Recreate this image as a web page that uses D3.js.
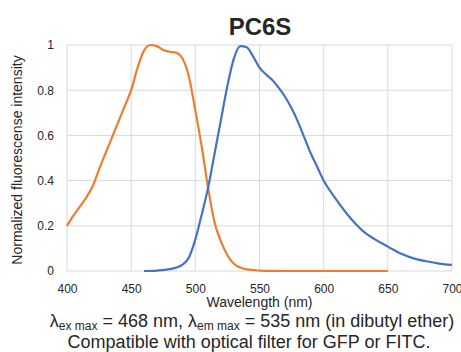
<!DOCTYPE html>
<html lang="en">
<head>
<meta charset="UTF-8">
<title>PC6S spectra</title>
<script src="https://d3js.org/d3.v7.min.js"></script>
<style>
  body { margin: 0; background: #fff; }
  svg text { font-family: Arial, "Liberation Sans", sans-serif; fill: #262626; }
</style>
</head>
<body>
<div id="chart"></div>
<script>
// excitation (orange), wavelength nm
const exWl  = [400, 405, 410, 415, 420, 425, 430, 435, 440, 445, 450, 455, 460, 465, 470, 475, 480, 485, 490, 495, 500, 505, 510, 515, 520, 525, 530, 535, 540, 550, 560, 570, 600, 650];
const exVal = [0.20, 0.245, 0.285, 0.325, 0.375, 0.45, 0.52, 0.59, 0.66, 0.73, 0.80, 0.90, 0.975, 1.0, 0.995, 0.978, 0.97, 0.966, 0.94, 0.86, 0.71, 0.55, 0.366, 0.215, 0.13, 0.07, 0.032, 0.015, 0.007, 0.002, 0.0005, 0, 0, 0];
// emission (blue)
const emWl  = [460, 470, 480, 485, 490, 495, 500, 505, 510, 515, 520, 525, 530, 535, 540, 545, 550, 555, 560, 565, 570, 575, 580, 585, 590, 595, 600, 610, 620, 630, 640, 650, 660, 670, 680, 690, 700];
const emVal = [0, 0.002, 0.008, 0.015, 0.028, 0.06, 0.14, 0.25, 0.37, 0.52, 0.67, 0.82, 0.94, 0.995, 0.99, 0.95, 0.90, 0.87, 0.845, 0.81, 0.77, 0.72, 0.66, 0.59, 0.52, 0.46, 0.40, 0.315, 0.24, 0.18, 0.14, 0.108, 0.077, 0.056, 0.043, 0.033, 0.027];
const xTicks = [400, 450, 500, 550, 600, 650, 700];
const yTicks = [0, 0.2, 0.4, 0.6, 0.8, 1];

const W = 461, H = 352;
const margin = {top: 45, right: 9, bottom: 81, left: 67};
const width = W - margin.left - margin.right;
const height = H - margin.top - margin.bottom;

const svg = d3.select("#chart").append("svg")
    .attr("width", W)
    .attr("height", H);

const x = d3.scaleLinear().domain([400, 700]).range([margin.left, margin.left + width]);
const y = d3.scaleLinear().domain([0, 1]).range([margin.top + height, margin.top]);

// gridlines
svg.append("g").selectAll("line").data(xTicks).join("line")
    .attr("x1", d => x(d)).attr("x2", d => x(d))
    .attr("y1", y(0)).attr("y2", y(1))
    .attr("stroke", "#d9d9d9").attr("stroke-width", 1);
svg.append("g").selectAll("line").data(yTicks).join("line")
    .attr("x1", x(400)).attr("x2", x(700))
    .attr("y1", d => y(d)).attr("y2", d => y(d))
    .attr("stroke", "#d9d9d9").attr("stroke-width", 1);

// axes (labels only)
const xAxis = svg.append("g")
    .attr("transform", `translate(0,${y(0) + 10})`)
    .call(d3.axisBottom(x).tickValues(xTicks).tickSize(0).tickFormat(d3.format("d")));
const yAxis = svg.append("g")
    .attr("transform", `translate(${x(400) - 13},0)`)
    .call(d3.axisLeft(y).tickValues(yTicks).tickSize(0).tickFormat(d => d));
[xAxis, yAxis].forEach(a => {
    a.select(".domain").remove();
    a.selectAll("text").style("font-size", "12px").attr("fill", "#404040")
        .style("font-family", "Arial, 'Liberation Sans', sans-serif");
});
yAxis.selectAll("text").attr("x", 0);
// keep the last label inside the window
xAxis.selectAll("text").filter(d => d === 700).attr("text-anchor", "end").attr("dx", 10);

// curves
const line = d3.line()
    .x(d => x(d[0]))
    .y(d => y(d[1]))
    .curve(d3.curveMonotoneX);

svg.append("path")
    .datum(exWl.map((w, i) => [w, exVal[i]]))
    .attr("d", line)
    .attr("fill", "none")
    .attr("stroke", "#ED7D31")
    .attr("stroke-width", 2.2);

svg.append("path")
    .datum(emWl.map((w, i) => [w, emVal[i]]))
    .attr("d", line)
    .attr("fill", "none")
    .attr("stroke", "#4472C4")
    .attr("stroke-width", 2.2);

// title
svg.append("text")
    .attr("x", 260).attr("y", 35)
    .attr("text-anchor", "middle")
    .style("font-size", "24px").style("font-weight", "bold")
    .attr("fill", "#1a1a1a")
    .text("PC6S");

// axis titles
svg.append("text")
    .attr("x", x(550)).attr("y", 307)
    .attr("text-anchor", "middle")
    .style("font-size", "14px")
    .text("Wavelength (nm)");

svg.append("text")
    .attr("transform", `translate(22,${(y(0) + y(1)) / 2 + 2}) rotate(-90)`)
    .attr("text-anchor", "middle")
    .style("font-size", "14px")
    .text("Normalized fluorescense intensity");

// caption
const cap = svg.append("text")
    .attr("x", 252).attr("y", 327)
    .attr("text-anchor", "middle")
    .style("font-size", "18px");
cap.append("tspan").text("λ");
cap.append("tspan").attr("dy", 3).style("font-size", "12px").text("ex max");
cap.append("tspan").attr("dy", -3).text(" = 468 nm, λ");
cap.append("tspan").attr("dy", 3).style("font-size", "12px").text("em max");
cap.append("tspan").attr("dy", -3).text(" = 535 nm (in dibutyl ether)");

svg.append("text")
    .attr("x", 249).attr("y", 348)
    .attr("text-anchor", "middle")
    .style("font-size", "18px")
    .text("Compatible with optical filter for GFP or FITC.");
</script>
</body>
</html>
